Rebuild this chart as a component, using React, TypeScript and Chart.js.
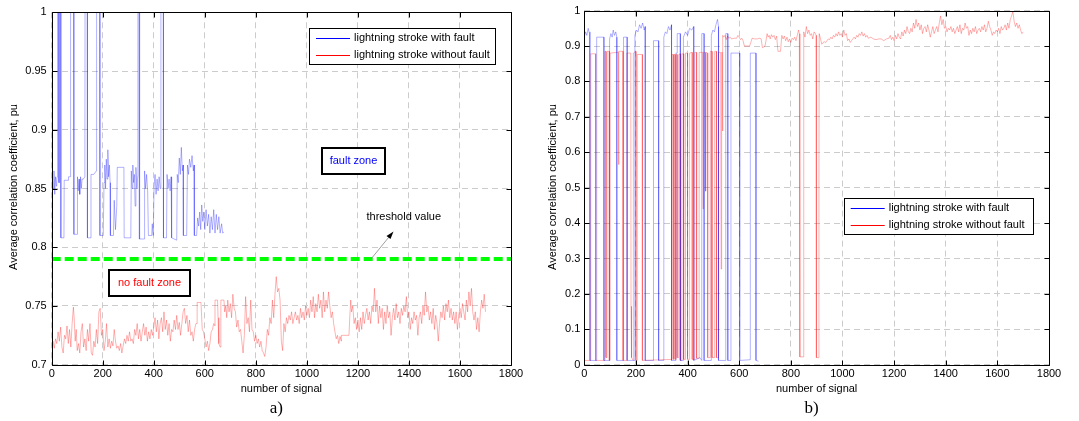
import React, { useEffect, useRef } from 'react';
import { Chart, registerables } from 'chart.js';
Chart.register(...registerables);

const FONT = '"Liberation Sans", Arial, Helvetica, sans-serif';
const SERIF = '"Liberation Serif", "Times New Roman", serif';

// ---------- Panel a) data ----------
const xTicksA = [0, 200, 400, 600, 800, 1000, 1200, 1400, 1600, 1800];
const yTicksA = [0.7, 0.75, 0.8, 0.85, 0.9, 0.95, 1];
const thresholdA = 0.79;

const faultA: [number, number][] = [
  [0, 0.855], [3, 0.862], [6, 0.85], [9, 0.865], [12, 0.845], [15, 0.86], [18, 0.852], [20, 0.858], [22, 0.86],
  [23, 1.05], [27, 1.05], [28, 0.855], [30, 0.855], [31, 1.05], [35, 1.05], [36, 0.808], [48, 0.808],
  [49, 0.857], [65, 0.857], [66, 0.86], [73, 0.86], [74, 1.05], [86, 1.05], [87, 0.811], [100, 0.811],
  [101, 0.86], [104, 0.848], [107, 0.858], [110, 0.845], [113, 0.86], [116, 0.85], [119, 0.858], [124, 0.858],
  [130, 0.86], [131, 1.05], [139, 1.05], [140, 0.808], [153, 0.808], [154, 0.862], [165, 0.862], [175, 0.865],
  [176, 1.05], [188, 1.05], [189, 0.81], [202, 0.81], [205, 0.855], [208, 0.87], [211, 0.85], [214, 0.875],
  [217, 0.858], [220, 0.883], [223, 0.86], [226, 0.87], [229, 0.855], [230, 0.81], [242, 0.81], [245, 0.84],
  [250, 0.815], [255, 0.835], [257, 0.868], [283, 0.868], [284, 0.808], [310, 0.808], [312, 0.865],
  [315, 0.85], [318, 0.87], [321, 0.855], [324, 0.862], [327, 0.835], [330, 0.868], [334, 0.85], [337, 0.86],
  [338, 1.05], [342, 1.05], [343, 0.807], [344, 1.05], [345, 0.807], [362, 0.807], [364, 0.865], [368, 0.85],
  [372, 0.862], [376, 0.848], [379, 0.81], [392, 0.81], [394, 0.82], [398, 0.81], [401, 0.85], [405, 0.862],
  [409, 0.845], [413, 0.858], [417, 0.848], [421, 0.86], [425, 0.85], [428, 1.05], [437, 1.05], [438, 0.808],
  [450, 0.808], [452, 0.862], [456, 0.85], [460, 0.858], [464, 0.848], [468, 0.86], [470, 0.808], [490, 0.806],
  [492, 0.862], [496, 0.855], [500, 0.876], [504, 0.862], [508, 0.885], [512, 0.865], [515, 0.87], [516, 0.81],
  [529, 0.81], [532, 0.87], [536, 0.862], [540, 0.875], [545, 0.868], [550, 0.878], [555, 0.865], [558, 0.87],
  [559, 0.81], [568, 0.81], [572, 0.825], [576, 0.818], [580, 0.83], [584, 0.815], [588, 0.836], [592, 0.822],
  [596, 0.83], [600, 0.815], [605, 0.832], [610, 0.818], [615, 0.828], [620, 0.812], [625, 0.826], [630, 0.815],
  [635, 0.832], [640, 0.812], [645, 0.828], [650, 0.815], [655, 0.826], [660, 0.812], [666, 0.82], [670, 0.812], [675, 0.813],
];

const noFaultA: [number, number][] = [
  [0, 0.716], [5, 0.72], [10, 0.714], [15, 0.722], [20, 0.718], [25, 0.728], [30, 0.72], [35, 0.732], [40, 0.715],
  [45, 0.71], [50, 0.725], [55, 0.722], [60, 0.733], [65, 0.718], [70, 0.73], [75, 0.715], [80, 0.735], [85, 0.749],
  [88, 0.74], [92, 0.72], [96, 0.73], [100, 0.712], [105, 0.718], [110, 0.71], [115, 0.728], [120, 0.735], [125, 0.715],
  [130, 0.722], [135, 0.712], [140, 0.73], [145, 0.72], [150, 0.735], [155, 0.71], [160, 0.708], [165, 0.72], [170, 0.715],
  [175, 0.73], [180, 0.718], [185, 0.745], [190, 0.748], [195, 0.725], [200, 0.73], [205, 0.712], [210, 0.72], [215, 0.735],
  [220, 0.715], [225, 0.722], [230, 0.714], [235, 0.72], [240, 0.716], [245, 0.73], [250, 0.72], [255, 0.714], [260, 0.716],
  [265, 0.712], [270, 0.718], [275, 0.71], [280, 0.716], [285, 0.722], [290, 0.718], [295, 0.725], [300, 0.72], [305, 0.728],
  [310, 0.72], [315, 0.722], [320, 0.718], [325, 0.73], [330, 0.725], [335, 0.735], [340, 0.722], [345, 0.73], [350, 0.72],
  [355, 0.728], [360, 0.735], [365, 0.725], [370, 0.732], [375, 0.72], [380, 0.728], [385, 0.722], [390, 0.73], [395, 0.725],
  [400, 0.732], [405, 0.74], [410, 0.728], [415, 0.738], [420, 0.722], [425, 0.735], [430, 0.74], [435, 0.728], [440, 0.745],
  [445, 0.73], [450, 0.738], [455, 0.725], [460, 0.735], [465, 0.72], [470, 0.73], [475, 0.728], [480, 0.738], [485, 0.73],
  [490, 0.742], [495, 0.73], [500, 0.736], [505, 0.725], [510, 0.735], [515, 0.745], [520, 0.748], [525, 0.735], [530, 0.742],
  [535, 0.728], [540, 0.738], [545, 0.725], [550, 0.728], [555, 0.72], [560, 0.73], [565, 0.735], [570, 0.735], [570, 0.753],
  [585, 0.753], [590, 0.73], [595, 0.728], [600, 0.722], [605, 0.715], [610, 0.72], [615, 0.712], [620, 0.718], [625, 0.728],
  [630, 0.73], [635, 0.735], [640, 0.733], [640, 0.755], [650, 0.755], [652, 0.74], [655, 0.718], [660, 0.715], [663, 0.715],
  [663, 0.755], [675, 0.755], [678, 0.745], [682, 0.75], [686, 0.74], [690, 0.755], [695, 0.745], [700, 0.752], [705, 0.74],
  [710, 0.76], [715, 0.748], [720, 0.745], [725, 0.732], [730, 0.738], [735, 0.728], [740, 0.73], [745, 0.72], [750, 0.71],
  [755, 0.725], [760, 0.758], [765, 0.735], [770, 0.74], [775, 0.728], [780, 0.755], [785, 0.73], [790, 0.728], [795, 0.72],
  [800, 0.725], [805, 0.718], [810, 0.722], [815, 0.715], [820, 0.72], [825, 0.712], [830, 0.71], [835, 0.707], [840, 0.715],
  [845, 0.73], [850, 0.725], [855, 0.74], [860, 0.735], [865, 0.755], [870, 0.74], [875, 0.76], [880, 0.775], [885, 0.762],
  [890, 0.765], [895, 0.755], [900, 0.72], [905, 0.712], [910, 0.735], [915, 0.728], [920, 0.74], [925, 0.735], [930, 0.742],
  [935, 0.738], [940, 0.745], [945, 0.735], [950, 0.74], [955, 0.745], [960, 0.738], [965, 0.742], [970, 0.735], [975, 0.748],
  [980, 0.74], [985, 0.745], [990, 0.738], [995, 0.75], [1000, 0.742], [1005, 0.748], [1010, 0.74], [1015, 0.755], [1020, 0.745],
  [1025, 0.758], [1030, 0.74], [1035, 0.752], [1040, 0.745], [1045, 0.76], [1050, 0.748], [1055, 0.755], [1060, 0.74],
  [1065, 0.762], [1070, 0.745], [1075, 0.755], [1080, 0.748], [1085, 0.762], [1090, 0.75], [1095, 0.74], [1100, 0.745],
  [1105, 0.735], [1110, 0.728], [1115, 0.722], [1120, 0.725], [1125, 0.718], [1130, 0.724], [1135, 0.72], [1135, 0.725],
  [1165, 0.725], [1168, 0.74], [1172, 0.755], [1175, 0.745], [1180, 0.75], [1185, 0.735], [1190, 0.74], [1195, 0.73],
  [1200, 0.738], [1205, 0.728], [1210, 0.74], [1215, 0.73], [1220, 0.745], [1225, 0.735], [1230, 0.742], [1235, 0.748],
  [1240, 0.738], [1245, 0.745], [1250, 0.735], [1255, 0.75], [1260, 0.745], [1265, 0.765], [1270, 0.745], [1275, 0.755],
  [1280, 0.735], [1285, 0.75], [1290, 0.74], [1295, 0.748], [1300, 0.73], [1305, 0.745], [1310, 0.735], [1315, 0.75],
  [1320, 0.74], [1325, 0.745], [1330, 0.725], [1335, 0.74], [1340, 0.748], [1345, 0.738], [1350, 0.752], [1355, 0.74],
  [1360, 0.745], [1365, 0.735], [1370, 0.748], [1375, 0.742], [1380, 0.75], [1385, 0.745], [1390, 0.758], [1395, 0.74],
  [1400, 0.745], [1405, 0.73], [1410, 0.74], [1415, 0.735], [1420, 0.745], [1425, 0.738], [1430, 0.742], [1435, 0.725],
  [1440, 0.74], [1445, 0.745], [1450, 0.735], [1455, 0.75], [1460, 0.742], [1465, 0.762], [1470, 0.745], [1475, 0.75],
  [1480, 0.738], [1485, 0.745], [1490, 0.735], [1495, 0.748], [1500, 0.73], [1505, 0.742], [1510, 0.735], [1515, 0.72],
  [1520, 0.735], [1525, 0.745], [1530, 0.74], [1535, 0.75], [1540, 0.738], [1545, 0.752], [1550, 0.745], [1555, 0.755],
  [1560, 0.74], [1565, 0.748], [1570, 0.738], [1575, 0.745], [1580, 0.735], [1585, 0.745], [1590, 0.73], [1595, 0.742],
  [1600, 0.748], [1605, 0.74], [1610, 0.752], [1615, 0.745], [1620, 0.738], [1625, 0.755], [1630, 0.745], [1635, 0.762],
  [1640, 0.75], [1645, 0.765], [1650, 0.745], [1655, 0.738], [1660, 0.745], [1665, 0.73], [1670, 0.74], [1675, 0.728],
  [1680, 0.745], [1685, 0.755], [1690, 0.748], [1695, 0.76], [1700, 0.745],
];

// ---------- Panel b) data ----------
const xTicksB = [0, 200, 400, 600, 800, 1000, 1200, 1400, 1600, 1800];
const yTicksB = [0, 0.1, 0.2, 0.3, 0.4, 0.5, 0.6, 0.7, 0.8, 0.9, 1];

const faultB: [number, number][] = [
  [0, 0.925], [5, 0.94], [10, 0.93], [15, 0.95], [20, 0.935], [22, 0.94], [22, 0.012], [48, 0.012], [48, 0.925],
  [76, 0.925], [76, 0.012], [98, 0.012], [98, 0.92], [103, 0.935], [108, 0.925], [112, 0.945], [117, 0.93], [122, 0.94],
  [126, 0.925], [126, 0.012], [152, 0.012], [152, 0.925], [166, 0.925], [166, 0.012], [196, 0.012], [196, 0.93],
  [202, 0.945], [208, 0.94], [214, 0.96], [220, 0.95], [226, 0.965], [232, 0.945], [236, 0.955], [236, 0.012],
  [268, 0.012], [268, 0.915], [288, 0.915], [288, 0.012], [308, 0.012], [308, 0.925], [314, 0.94], [320, 0.935],
  [326, 0.955], [332, 0.945], [338, 0.96], [338, 0.012], [355, 0.012], [355, 0.88], [360, 0.88], [360, 0.935], [372, 0.935],
  [372, 0.012], [384, 0.012], [384, 0.925], [392, 0.94], [400, 0.93], [408, 0.95], [416, 0.945], [424, 0.955],
  [424, 0.012], [448, 0.02], [455, 0.012], [455, 0.935], [464, 0.935], [464, 0.012], [492, 0.012], [492, 0.93],
  [498, 0.945], [504, 0.94], [510, 0.96], [516, 0.975], [520, 0.955], [520, 0.012], [548, 0.012], [548, 0.935],
  [556, 0.935], [556, 0.012], [568, 0.012], [568, 0.88], [602, 0.88], [602, 0.012], [643, 0.014], [643, 0.88],
  [665, 0.88], [665, 0.012], [675, 0.01],
];

const noFaultB: [number, number][] = [
  [0, 0.012], [25, 0.012], [25, 0.878], [44, 0.878], [44, 0.012], [80, 0.012], [80, 0.885], [84, 0.885], [84, 0.02],
  [88, 0.02], [88, 0.885], [97, 0.885], [97, 0.012], [100, 0.012], [100, 0.88], [128, 0.882], [132, 0.882], [132, 0.565],
  [134, 0.565], [134, 0.885], [150, 0.885], [150, 0.012], [165, 0.012], [165, 0.88], [180, 0.88], [181, 0.165],
  [183, 0.02], [190, 0.012], [190, 0.88], [200, 0.885], [200, 0.012], [205, 0.012], [205, 0.876], [225, 0.876],
  [225, 0.012], [340, 0.015], [340, 0.876], [345, 0.876], [345, 0.015], [348, 0.015], [348, 0.876], [352, 0.876],
  [352, 0.015], [356, 0.015], [356, 0.876], [360, 0.876], [360, 0.02], [366, 0.02], [366, 0.876], [372, 0.878],
  [372, 0.012], [378, 0.012], [378, 0.878], [385, 0.878], [385, 0.015], [392, 0.015], [392, 0.88], [400, 0.88],
  [400, 0.015], [408, 0.015], [408, 0.88], [418, 0.882], [418, 0.015], [428, 0.015], [428, 0.882], [435, 0.882],
  [435, 0.018], [445, 0.018], [445, 0.882], [458, 0.882], [460, 0.44], [462, 0.882], [468, 0.882], [470, 0.49],
  [472, 0.882], [478, 0.88], [478, 0.02], [488, 0.02], [488, 0.885], [495, 0.885], [495, 0.02], [505, 0.02],
  [505, 0.885], [512, 0.885], [512, 0.02], [520, 0.02], [520, 0.882], [528, 0.882], [530, 0.27], [532, 0.882],
  [535, 0.882], [535, 0.66], [537, 0.93],
  [540, 0.925], [545, 0.93], [550, 0.918], [555, 0.928], [560, 0.922], [565, 0.925], [570, 0.92], [580, 0.922],
  [590, 0.922], [595, 0.93], [600, 0.925], [605, 0.918], [610, 0.922], [615, 0.915], [620, 0.9], [640, 0.9], [645, 0.91],
  [650, 0.922], [660, 0.92], [670, 0.92], [680, 0.922], [685, 0.92], [690, 0.895], [700, 0.9], [705, 0.92], [708, 0.935],
  [712, 0.925], [716, 0.93], [720, 0.92], [725, 0.932], [730, 0.925], [735, 0.93], [740, 0.918], [745, 0.928],
  [750, 0.885], [760, 0.885], [765, 0.93], [770, 0.92], [775, 0.928], [780, 0.915], [785, 0.925], [790, 0.912],
  [795, 0.92], [800, 0.91], [805, 0.922], [810, 0.918], [815, 0.925], [820, 0.915], [825, 0.93], [830, 0.945],
  [833, 0.935], [835, 0.022], [848, 0.022], [850, 0.94], [855, 0.925], [860, 0.955], [865, 0.935], [870, 0.945],
  [875, 0.93], [880, 0.935], [885, 0.92], [890, 0.94], [895, 0.935], [898, 0.93], [899, 0.02], [908, 0.02], [909, 0.535],
  [910, 0.935], [915, 0.92], [920, 0.905], [925, 0.91], [930, 0.912], [935, 0.91], [940, 0.915], [945, 0.92], [950, 0.918],
  [955, 0.925], [960, 0.92], [965, 0.93], [970, 0.925], [975, 0.935], [980, 0.928], [985, 0.94], [990, 0.93], [995, 0.935],
  [1000, 0.925], [1005, 0.945], [1010, 0.93], [1015, 0.935], [1020, 0.915], [1025, 0.92], [1030, 0.91], [1035, 0.915],
  [1040, 0.92], [1045, 0.925], [1050, 0.92], [1055, 0.93], [1060, 0.925], [1065, 0.935], [1070, 0.93], [1075, 0.94],
  [1080, 0.928], [1085, 0.935], [1090, 0.925], [1095, 0.93], [1100, 0.922], [1110, 0.925], [1120, 0.92], [1130, 0.918],
  [1140, 0.92], [1150, 0.92], [1160, 0.915], [1170, 0.92], [1180, 0.922], [1185, 0.93], [1190, 0.918], [1195, 0.925],
  [1200, 0.915], [1205, 0.93], [1210, 0.92], [1215, 0.935], [1220, 0.925], [1225, 0.92], [1230, 0.94], [1235, 0.928],
  [1240, 0.945], [1245, 0.935], [1250, 0.955], [1255, 0.94], [1260, 0.935], [1265, 0.95], [1270, 0.94], [1275, 0.965],
  [1280, 0.95], [1285, 0.975], [1290, 0.955], [1295, 0.965], [1300, 0.945], [1305, 0.96], [1310, 0.935], [1315, 0.95],
  [1320, 0.955], [1325, 0.94], [1330, 0.96], [1335, 0.945], [1340, 0.925], [1345, 0.94], [1350, 0.955], [1355, 0.935],
  [1360, 0.945], [1365, 0.955], [1370, 0.94], [1375, 0.965], [1380, 0.985], [1385, 0.96], [1390, 0.975], [1395, 0.95],
  [1400, 0.955], [1405, 0.94], [1410, 0.95], [1415, 0.945], [1420, 0.955], [1425, 0.94], [1430, 0.95], [1435, 0.935],
  [1440, 0.945], [1445, 0.955], [1450, 0.94], [1455, 0.96], [1460, 0.935], [1465, 0.95], [1470, 0.945], [1475, 0.965],
  [1480, 0.95], [1485, 0.955], [1490, 0.93], [1495, 0.945], [1500, 0.935], [1505, 0.95], [1510, 0.94], [1515, 0.955],
  [1520, 0.935], [1525, 0.945], [1530, 0.95], [1535, 0.94], [1540, 0.955], [1545, 0.945], [1550, 0.96], [1555, 0.94],
  [1560, 0.95], [1565, 0.97], [1570, 0.955], [1575, 0.945], [1580, 0.93], [1585, 0.94], [1590, 0.935], [1595, 0.945],
  [1600, 0.94], [1605, 0.95], [1610, 0.935], [1615, 0.955], [1620, 0.945], [1625, 0.95], [1630, 0.96], [1635, 0.945],
  [1640, 0.965], [1645, 0.95], [1650, 0.975], [1655, 0.985], [1660, 0.997], [1665, 0.97], [1670, 0.955], [1675, 0.965],
  [1680, 0.95], [1685, 0.96], [1690, 0.945], [1695, 0.935], [1700, 0.94],
];

const legendLabels = ['lightning stroke with fault', 'lightning stroke without fault'];
const BLUE_LINE = 'rgba(0,0,255,0.3)';
const RED_LINE = 'rgba(255,0,0,0.3)';

type Box = { x: number; y: number; w: number; h: number };
type PanelSpec = {
  width: number;
  xTicks: number[];
  yTicks: number[];
  yMin: number;
  yMax: number;
  axisW: number;
  padRight: number;
  padTop: number;
  yTickPad: number;
  series: [number, number][][];
  threshold?: number;
  legend: Box;
  caption: string;
  extra?: (ctx: CanvasRenderingContext2D) => void;
};

const fmt = (v: number) => String(parseFloat(v.toFixed(2)));

function drawLegend(ctx: CanvasRenderingContext2D, b: Box) {
  ctx.save();
  ctx.fillStyle = '#fff';
  ctx.fillRect(b.x, b.y, b.w, b.h);
  ctx.strokeStyle = '#000';
  ctx.lineWidth = 1;
  ctx.strokeRect(Math.round(b.x) + 0.5, Math.round(b.y) + 0.5, b.w, b.h);
  const colors = ['#0000ff', '#ff0000'];
  ctx.font = `11px ${FONT}`;
  ctx.textBaseline = 'middle';
  for (let i = 0; i < 2; i++) {
    const ry = b.y + 10 + i * 16.6;
    ctx.strokeStyle = colors[i];
    ctx.lineWidth = 1;
    ctx.beginPath();
    ctx.moveTo(b.x + 7, Math.round(ry) + 0.5);
    ctx.lineTo(b.x + 41, Math.round(ry) + 0.5);
    ctx.stroke();
    ctx.fillStyle = '#000';
    ctx.fillText(legendLabels[i], b.x + 45, ry);
  }
  ctx.restore();
}

function Panel({ spec, left }: { spec: PanelSpec; left: number }) {
  const ref = useRef<HTMLCanvasElement>(null);
  useEffect(() => {
    if (!ref.current) return;
    const overlay = {
      id: 'overlay',
      afterDraw(chart: any) {
        const ctx: CanvasRenderingContext2D = chart.ctx;
        const a = chart.chartArea;
        const xs = chart.scales.x;
        const ys = chart.scales.y;
        ctx.save();
        ctx.strokeStyle = '#000';
        ctx.lineWidth = 1;
        const L = Math.round(a.left) + 0.5, R = Math.round(a.right) + 0.5;
        const T = Math.round(a.top) + 0.5, B = Math.round(a.bottom) + 0.5;
        ctx.beginPath();
        ctx.rect(L, T, R - L, B - T);
        ctx.stroke();
        ctx.beginPath();
        for (const v of spec.xTicks) {
          const px = Math.round(xs.getPixelForValue(v)) + 0.5;
          ctx.moveTo(px, B); ctx.lineTo(px, B - 5);
          ctx.moveTo(px, T); ctx.lineTo(px, T + 5);
        }
        for (const v of spec.yTicks) {
          const py = Math.round(ys.getPixelForValue(v)) + 0.5;
          ctx.moveTo(L, py); ctx.lineTo(L + 5, py);
          ctx.moveTo(R, py); ctx.lineTo(R - 5, py);
        }
        ctx.stroke();
        ctx.fillStyle = '#000';
        ctx.font = `11px ${FONT}`;
        ctx.textAlign = 'center';
        ctx.textBaseline = 'middle';
        const cx = (a.left + a.right) / 2;
        ctx.fillText('number of signal', cx, 389);
        ctx.save();
        ctx.translate(spec.width === 540 ? 14 : 12.5, 187);
        ctx.rotate(-Math.PI / 2);
        ctx.fillText('Average correlation coefficient, pu', 0, 0);
        ctx.restore();
        ctx.font = `17px ${SERIF}`;
        ctx.fillText(spec.caption, cx - 5, 409);
        ctx.restore();
        drawLegend(ctx, spec.legend);
        if (spec.extra) spec.extra(ctx);
      },
    };
    const datasets: any[] = [
      {
        label: legendLabels[0],
        data: spec.series[0].map(([x, y]) => ({ x, y })),
        borderColor: BLUE_LINE,
        borderWidth: 1,
        pointRadius: 0,
        tension: 0,
      },
      {
        label: legendLabels[1],
        data: spec.series[1].map(([x, y]) => ({ x, y })),
        borderColor: RED_LINE,
        borderWidth: 1,
        pointRadius: 0,
        tension: 0,
      },
    ];
    if (spec.threshold !== undefined) {
      datasets.unshift({
        label: 'threshold',
        data: [{ x: 0, y: spec.threshold }, { x: 1800, y: spec.threshold }],
        borderColor: '#00ff00',
        borderWidth: 4,
        borderDash: [9, 4],
        pointRadius: 0,
      });
    }
    const chart = new Chart(ref.current, {
      type: 'line',
      data: { datasets },
      plugins: [overlay],
      options: {
        animation: false,
        responsive: false,
        maintainAspectRatio: false,
        layout: { padding: { left: 0, right: spec.padRight, top: spec.padTop, bottom: 0 } },
        plugins: { legend: { display: false }, tooltip: { enabled: false } },
        scales: {
          x: {
            type: 'linear',
            min: 0,
            max: 1800,
            afterFit: (s: any) => { s.height = 421 - 364.7; },
            afterBuildTicks: (s: any) => { s.ticks = spec.xTicks.map((v) => ({ value: v })); },
            ticks: { color: '#000', font: { family: FONT, size: 11 }, padding: 3, maxRotation: 0, autoSkip: false, callback: (v: any) => String(v) },
            grid: { color: '#cccccc', lineWidth: 1, drawTicks: false },
            border: { display: false, dash: [6, 4] },
          },
          y: {
            type: 'linear',
            min: spec.yMin,
            max: spec.yMax,
            afterFit: (s: any) => { s.width = spec.axisW; },
            afterBuildTicks: (s: any) => { s.ticks = spec.yTicks.map((v) => ({ value: v })); },
            ticks: { color: '#000', font: { family: FONT, size: 11 }, padding: spec.yTickPad, autoSkip: false, callback: (v: any) => fmt(Number(v)) },
            grid: { color: '#cccccc', lineWidth: 1, drawTicks: false },
            border: { display: false, dash: [6, 4] },
          },
        },
      },
    });
    return () => chart.destroy();
  }, [spec]);
  return (
    <canvas
      ref={ref}
      width={spec.width}
      height={421}
      style={{ position: 'absolute', left, top: 0, width: spec.width, height: 421 }}
    />
  );
}

function drawTextBox(ctx: CanvasRenderingContext2D, b: Box, text: string, color: string) {
  ctx.save();
  ctx.fillStyle = '#fff';
  ctx.fillRect(b.x, b.y, b.w, b.h);
  ctx.strokeStyle = '#000';
  ctx.lineWidth = 2;
  ctx.strokeRect(b.x, b.y, b.w, b.h);
  ctx.fillStyle = color;
  ctx.font = `11px ${FONT}`;
  ctx.textAlign = 'center';
  ctx.textBaseline = 'middle';
  ctx.fillText(text, b.x + b.w / 2, b.y + b.h / 2);
  ctx.restore();
}

const specA: PanelSpec = {
  width: 540,
  xTicks: xTicksA,
  yTicks: yTicksA,
  yMin: 0.7,
  yMax: 1,
  axisW: 51.7,
  padRight: 29,
  padTop: 12.3,
  yTickPad: 5,
  series: [faultA, noFaultA],
  threshold: thresholdA,
  legend: { x: 309, y: 28, w: 186, h: 36 },
  caption: 'a)',
  extra: (ctx) => {
    drawTextBox(ctx, { x: 322, y: 148, w: 63, h: 26 }, 'fault zone', '#0000ff');
    drawTextBox(ctx, { x: 109, y: 270, w: 81, h: 26 }, 'no fault zone', '#ff0000');
    ctx.save();
    ctx.fillStyle = '#000';
    ctx.font = `11px ${FONT}`;
    ctx.textBaseline = 'middle';
    ctx.fillText('threshold value', 366.5, 217);
    ctx.strokeStyle = '#888';
    ctx.lineWidth = 0.8;
    ctx.beginPath();
    ctx.moveTo(371, 259);
    ctx.lineTo(391, 234.5);
    ctx.stroke();
    ctx.fillStyle = '#000';
    ctx.beginPath();
    ctx.moveTo(393.5, 231.5);
    ctx.lineTo(386.5, 236);
    ctx.lineTo(390.5, 239);
    ctx.closePath();
    ctx.fill();
    ctx.restore();
  },
};

const specB: PanelSpec = {
  width: 539,
  xTicks: xTicksB,
  yTicks: yTicksB,
  yMin: 0,
  yMax: 1,
  axisW: 44.3,
  padRight: 30,
  padTop: 9.3,
  yTickPad: 4,
  series: [faultB, noFaultB],
  legend: { x: 303.7, y: 198, w: 189, h: 36 },
  caption: 'b)',
};

export default function App() {
  return (
    <div style={{ position: 'fixed', left: 0, top: 0, width: 1079, height: 421, background: '#fff' }}>
      <Panel spec={specA} left={0} />
      <Panel spec={specB} left={540} />
    </div>
  );
}
